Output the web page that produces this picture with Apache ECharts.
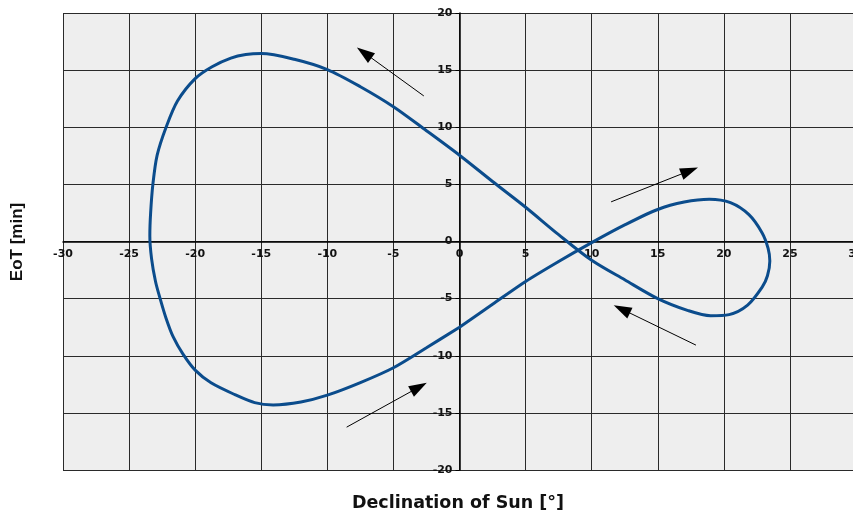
<!DOCTYPE html>
<html>
<head>
<meta charset="utf-8">
<title>Analemma: Equation of Time vs. Declination</title>
<script src="https://cdn.jsdelivr.net/npm/echarts@6/dist/echarts.min.js"></script>
<style>
  html, body { margin: 0; padding: 0; background: #ffffff; }
  #chart { width: 853px; height: 513px; }
</style>
</head>
<body>
<div id="chart"></div>
<script>
// Analemma traced as one closed loop: solar declination (°) against equation of time (min).
// The trace starts and ends on the straight lower branch so the seam stays invisible.
const declination = [
  0.00, 2.50, 5.00, 7.50, 10.00, 12.50, 15.00, 17.00, 18.90, 20.50,
  21.90, 22.90, 23.35, 23.48, 23.30, 22.90, 21.80, 20.40, 19.00, 17.30,
  15.00, 12.50, 10.00, 7.50, 5.00, 2.50, 0.00, -2.50, -5.00, -7.50,
  -10.00, -12.50, -15.00, -16.17, -17.30, -18.72, -20.00, -21.34, -22.20, -22.88,
  -23.20, -23.37, -23.43, -23.30, -23.00, -22.65, -22.21, -21.67, -20.92, -20.00,
  -18.80, -17.00, -15.50, -14.10, -12.00, -10.00, -7.50, -5.00, -2.50, 0.00
];
const equationOfTime = [
  -7.50, -5.50, -3.50, -1.75, -0.10, 1.45, 2.80, 3.45, 3.70, 3.40,
  2.35, 0.75, -0.60, -1.70, -3.00, -4.00, -5.57, -6.40, -6.50, -6.05,
  -5.00, -3.35, -1.64, 0.60, 3.00, 5.25, 7.55, 9.70, 11.80, 13.55,
  15.05, 15.95, 16.45, 16.36, 16.05, 15.30, 14.26, 12.30, 10.00, 7.54,
  5.00, 2.50, 0.50, -1.50, -3.50, -5.00, -6.69, -8.33, -9.86, -11.26,
  -12.37, -13.40, -14.10, -14.30, -14.05, -13.45, -12.35, -11.05, -9.30, -7.50
];

// Direction-of-travel arrows: [tailX, tailY, headX, headY] in axis units
const arrows = [
  [-2.70, 12.74, -7.21, 16.52],
  [-8.54, -16.25, -3.07, -12.75],
  [11.47, 3.47, 17.41, 6.19],
  [17.89, -9.07, 12.28, -5.92]
];

const xTitle = 'Declination of Sun [°]';
const yTitle = 'EoT [min]';

const points = declination.map((d, i) => [d, equationOfTime[i]]);

// Plot frame in pixels; the axes cross at the origin of the data
const GRID = { left: 63, top: 13, width: 793, height: 457 };

const tickFont = { fontFamily: 'DejaVu Sans', fontWeight: 'bold', fontSize: 11, color: '#111' };

const chart = echarts.init(document.getElementById('chart'), null, { renderer: 'canvas' });
chart.setOption({
  animation: false,
  backgroundColor: '#ffffff',
  grid: {
    left: GRID.left, top: GRID.top, width: GRID.width, height: GRID.height,
    outerBoundsMode: 'none', containLabel: false,
    show: true, backgroundColor: '#eeeeee', borderWidth: 0
  },
  xAxis: {
    type: 'value', min: -30, max: 30, interval: 5,
    position: 'bottom', offset: -GRID.height / 2,
    axisLine: { onZero: false, lineStyle: { color: '#000', width: 1.5 } },
    axisTick: { show: false },
    axisLabel: Object.assign({ margin: 7, showMinLabel: true, showMaxLabel: true }, tickFont),
    splitLine: { show: true, lineStyle: { color: '#2a2a2a', width: 1 } }
  },
  yAxis: {
    type: 'value', min: -20, max: 20, interval: 5,
    position: 'left', offset: -GRID.width / 2,
    axisLine: { onZero: false, lineStyle: { color: '#000', width: 1.5 } },
    axisTick: { show: true, length: 4, lineStyle: { color: '#000', width: 1 } },
    axisLabel: Object.assign({ margin: 7, showMinLabel: true, showMaxLabel: true }, tickFont),
    splitLine: { show: true, lineStyle: { color: '#2a2a2a', width: 1 } }
  },
  series: [{
    type: 'line',
    data: points,
    smooth: 0.3,
    showSymbol: false,
    symbol: 'none',
    silent: true,
    lineStyle: { color: '#0b4c8c', width: 3 },
    z: 5,
    markLine: {
      silent: true,
      animation: false,
      symbol: ['none', 'triangle'],
      symbolSize: [12, 18],
      label: { show: false },
      emphasis: { disabled: true },
      lineStyle: { color: '#000', width: 1, type: 'solid' },
      data: arrows.map(a => [
        { coord: [a[0], a[1]] },
        { coord: [a[2], a[3]], itemStyle: { color: '#000' } }
      ])
    }
  }],
  graphic: [
    {
      type: 'text', x: 458, y: 503,
      style: {
        text: xTitle, fill: '#111',
        font: 'bold 17.5px "DejaVu Sans"',
        textAlign: 'center', textVerticalAlign: 'middle'
      }
    },
    {
      type: 'text', x: 17, y: 242, rotation: Math.PI / 2,
      style: {
        text: yTitle, fill: '#111',
        font: 'bold 17px "Liberation Sans"',
        textAlign: 'center', textVerticalAlign: 'middle'
      }
    }
  ]
});
</script>
</body>
</html>
